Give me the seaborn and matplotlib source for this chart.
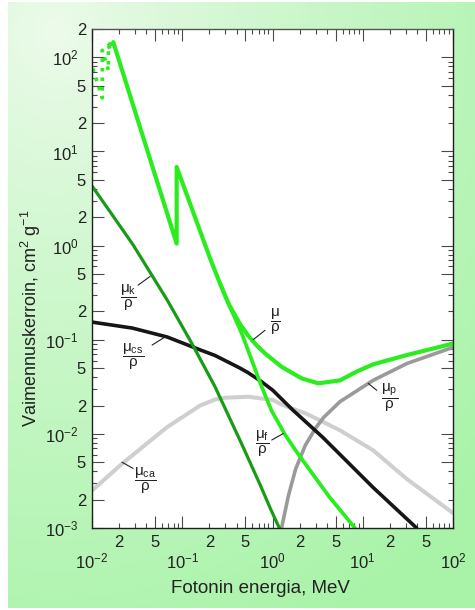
import numpy as np
import matplotlib
matplotlib.use('Agg')
import matplotlib.pyplot as plt
import seaborn as sns
from matplotlib.ticker import FixedLocator, FuncFormatter

# --- data (energy in MeV, coefficient in cm2/g) ---
# total attenuation, solid part (with the K edge jump)
mu_x = [0.0172, 0.0867, 0.0867, 0.203, 0.262, 0.33, 0.44, 0.54, 0.66, 0.826, 1.26, 2.11, 3.22, 5.6, 8.6, 13.2, 30.7, 100]
mu_y = [145, 1.05, 6.85, 0.735, 0.396, 0.235, 0.145, 0.11, 0.088, 0.0716, 0.0516, 0.0388, 0.0344, 0.037, 0.046, 0.055, 0.0687, 0.091]
# total attenuation in the L edge region (dotted)
mu_l_x = [0.0102, 0.013, 0.013, 0.0152, 0.0152, 0.0159, 0.0159, 0.0172]
mu_l_y = [76, 37, 119, 73, 134, 119, 150, 145]
# photoelectric
mu_f_x = [0.262, 0.33, 0.456, 0.589, 0.759, 0.98, 1.38, 1.78, 2.6, 4.33, 8.2]
mu_f_y = [0.396, 0.235, 0.117, 0.0607, 0.0316, 0.0175, 0.0098, 0.0068, 0.0041, 0.0021, 0.001]
# coherent scattering
mu_k_x = [0.01, 0.0166, 0.0285, 0.044, 0.068, 0.128, 0.231, 0.456, 0.727, 0.95, 1.19]
mu_k_y = [4.3, 2.15, 1.02, 0.52, 0.265, 0.091, 0.0316, 0.0078, 0.0029, 0.0016, 0.001]
# Compton scattering
mu_cs_x = [0.01, 0.028, 0.068, 0.158, 0.231, 0.436, 0.54, 0.75, 1.01, 1.26, 1.67, 3.6, 13, 39.5]
mu_cs_y = [0.154, 0.133, 0.107, 0.078, 0.068, 0.05, 0.0445, 0.036, 0.029, 0.0235, 0.018, 0.0092, 0.0027, 0.001]
# Compton absorption
mu_ca_x = [0.01, 0.022, 0.068, 0.158, 0.231, 0.3, 0.54, 1.01, 1.26, 2.4, 5.6, 13, 31, 100]
mu_ca_y = [0.0025, 0.0049, 0.0118, 0.020, 0.0232, 0.0242, 0.0248, 0.0229, 0.0205, 0.0163, 0.0109, 0.0067, 0.0033, 0.00144]
# pair production
mu_p_x = [1.26, 1.5, 1.8, 2.3, 3.0, 3.7, 5.6, 13, 31, 100]
mu_p_y = [0.001, 0.0022, 0.0042, 0.0075, 0.0115, 0.015, 0.022, 0.037, 0.056, 0.083]

x_decades = [-2, -1, 0, 1, 2]
y_decades = [-3, -2, -1, 0, 1, 2]
mantissas = [2, 3, 4, 5, 6, 7, 8, 9]

# --- style ---
sns.set_theme(style='ticks')
plt.rcParams['font.family'] = ['Liberation Sans', 'DejaVu Sans']
plt.rcParams['mathtext.fontset'] = 'custom'
plt.rcParams['mathtext.rm'] = 'Liberation Sans'
plt.rcParams['mathtext.it'] = 'Liberation Sans:italic'
plt.rcParams['mathtext.default'] = 'regular'

fig = plt.figure(figsize=(4.75, 6.1), dpi=100, facecolor='white')

# light green gradient panel behind the plot
bg = fig.add_axes([8 / 475, 2 / 610, 1 - 8 / 475, 1 - 4 / 610], zorder=-10)
gx, gy = np.meshgrid(np.linspace(0, 1, 200), np.linspace(0, 1, 200))
t = np.clip(np.hypot(gx - 0.1, (gy - 0.05) * 1.1) / 1.25, 0, 1) ** 0.8
c0 = np.array([238, 251, 236]) / 255
c1 = np.array([168, 243, 168]) / 255
bg.imshow(c0 + (c1 - c0) * t[..., None], aspect='auto', extent=[0, 1, 1, 0])
bg.axis('off')

ax = fig.add_axes([92 / 475, 82 / 610, 361 / 475, 499 / 610])
ax.set_facecolor('white')
ax.set_xscale('log')
ax.set_yscale('log')

green = '#2aec1e'
curves = [
    (mu_ca_x, mu_ca_y, '#cfcfcf', 2.9, '-'),
    (mu_p_x, mu_p_y, '#9a9a9a', 2.6, '-'),
    (mu_cs_x, mu_cs_y, '#161616', 2.6, '-'),
    (mu_k_x, mu_k_y, '#179c17', 2.3, '-'),
    (mu_f_x, mu_f_y, green, 2.7, '-'),
    (mu_x, mu_y, green, 3.0, '-'),
    (mu_l_x, mu_l_y, green, 2.6, ':'),
]
for xs, ys, col, lw, ls in curves:
    sns.lineplot(x=xs, y=ys, ax=ax, color=col, lw=lw, linestyle=ls,
                 sort=False, estimator=None, solid_joinstyle='round')

ax.set_xlim(1e-2, 1e2)
ax.set_ylim(1e-3, 2e2)

# ticks: decades labelled 10^n, 2 and 5 labelled with the mantissa
x_major = [10.0 ** d for d in x_decades]
y_major = [10.0 ** d for d in y_decades]
x_minor = [m * 10.0 ** d for d in x_decades[:-1] for m in mantissas]
y_minor = [m * 10.0 ** d for d in y_decades[:-1] for m in mantissas] + [2e2]


def mant(v):
    e = np.floor(np.log10(v) + 1e-9)
    return int(round(v / 10 ** e))


dec_fmt = FuncFormatter(lambda v, p: '$10^{%d}$' % int(round(np.log10(v))))
sub_fmt = FuncFormatter(lambda v, p: str(mant(v)) if mant(v) in (2, 5) else '')

ax.xaxis.set_major_locator(FixedLocator(x_major))
ax.xaxis.set_minor_locator(FixedLocator(x_minor))
ax.yaxis.set_major_locator(FixedLocator(y_major))
ax.yaxis.set_minor_locator(FixedLocator(y_minor))
for a in (ax.xaxis, ax.yaxis):
    a.set_major_formatter(dec_fmt)
    a.set_minor_formatter(sub_fmt)

long_t, short_t = 8.6, 3.6
ax.tick_params(which='both', direction='in', top=True, right=True,
               color='#4a4a4a', width=0.8, labelcolor='#222222', labelsize=12)
ax.tick_params(which='major', length=long_t)
ax.tick_params(which='minor', length=short_t)
ax.tick_params(axis='x', which='major', pad=17)
ax.tick_params(axis='x', which='minor', pad=5)
ax.tick_params(axis='y', which='major', pad=9.5)
ax.tick_params(axis='y', which='minor', pad=4.3)

for tick, v in zip(ax.xaxis.get_minor_ticks(len(x_minor)), x_minor):
    if mant(v) == 5:
        tick.tick1line.set_markersize(long_t)
        tick.tick2line.set_markersize(long_t)
for tick, v in zip(ax.yaxis.get_minor_ticks(len(y_minor)), y_minor):
    if mant(v) in (2, 5):
        tick.tick1line.set_markersize(long_t)
    if mant(v) == 5:
        tick.tick2line.set_markersize(long_t)

for side in ['left', 'bottom', 'right']:
    ax.spines[side].set_color('#1e1e1e')
    ax.spines[side].set_linewidth(1.0)
ax.spines['top'].set_color('#555555')
ax.spines['top'].set_linewidth(1.0)

ax.set_xlabel('Fotonin energia, MeV', fontsize=13.5, color='#222222')
ax.set_ylabel('Vaimennuskerroin, cm$^2$ g$^{-1}$', fontsize=13, color='#222222')
ax.xaxis.set_label_coords(0.467, -0.104)
ax.yaxis.set_label_coords(-0.136, 0.42)

# curve labels with leader lines: (text, label centre, leader start, leader end)
labels = [
    (r'$\dfrac{\mu_{\mathrm{k}}}{\rho}$', (0.0251, 0.283), (0.0324, 0.38), (0.044, 0.47)),
    (r'$\dfrac{\mu_{\mathrm{cs}}}{\rho}$', (0.0285, 0.0654), (0.0463, 0.0877), (0.0644, 0.107)),
    (r'$\dfrac{\mu}{\rho}$', (1.07, 0.154), (0.826, 0.126), (0.61, 0.1)),
    (r'$\dfrac{\mu_{\mathrm{f}}}{\rho}$', (0.766, 0.0078), (0.98, 0.0086), (1.32, 0.0101)),
    (r'$\dfrac{\mu_{\mathrm{p}}}{\rho}$', (20, 0.024), (14.3, 0.029), (11.5, 0.0344)),
    (r'$\dfrac{\mu_{\mathrm{ca}}}{\rho}$', (0.0386, 0.0032), (0.0285, 0.0043), (0.0215, 0.005)),
]
for txt, centre, start, end in labels:
    ax.text(*centre, txt, ha='center', va='center', fontsize=11, color='#222222')
    ax.annotate('', xy=end, xytext=start,
                arrowprops=dict(arrowstyle='-', color='#222222', lw=0.8, shrinkA=0, shrinkB=0))

fig.savefig('out.png', dpi=100, facecolor='white')
